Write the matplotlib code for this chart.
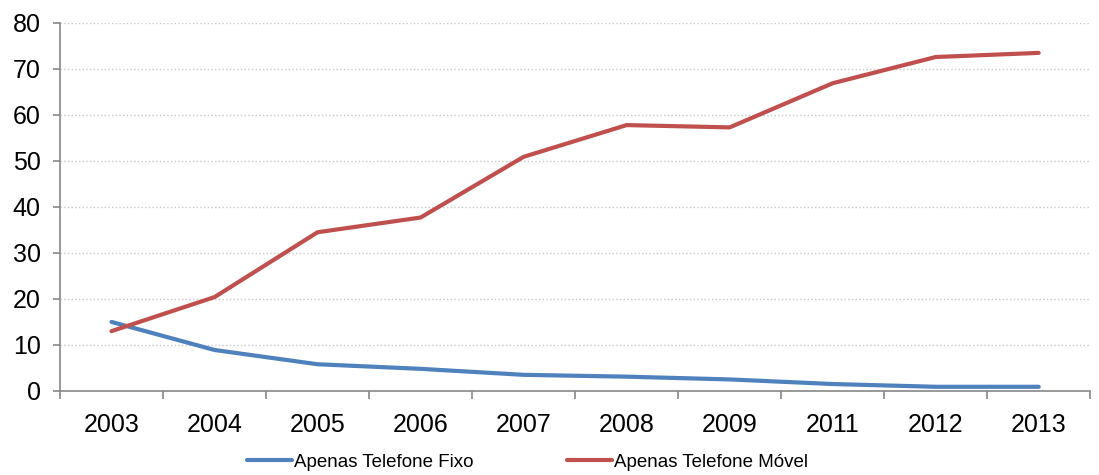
import numpy as np
import matplotlib.pyplot as plt

# === Dados ===
anos = ['2003', '2004', '2005', '2006', '2007', '2008', '2009', '2011', '2012', '2013']
fixo = [15.0, 8.9, 5.8, 4.8, 3.5, 3.1, 2.5, 1.5, 0.9, 0.9]
movel = [13.0, 20.4, 34.5, 37.7, 50.9, 57.8, 57.3, 66.9, 72.6, 73.5]

plt.rcParams['font.family'] = ['Liberation Sans Narrow', 'Liberation Sans', 'DejaVu Sans']

fig = plt.figure(figsize=(10.99, 4.75), dpi=100)
ax = fig.add_axes([0.0546, 0.177, 0.9374, 0.7746])

x = np.arange(len(anos))
ax.plot(x, fixo, color='#4F81BD', lw=3, label='Apenas Telefone Fixo', solid_capstyle='round')
ax.plot(x, movel, color='#C0504D', lw=3, label='Apenas Telefone Móvel', solid_capstyle='round')

ax.set_xlim(-0.5, len(anos) - 0.5)
ax.set_ylim(0, 80)
ax.set_yticks(range(0, 81, 10))
ax.set_xticks(x)
ax.set_xticklabels(anos)
ax.set_xticks(np.arange(-0.5, len(anos), 1), minor=True)
ax.tick_params(axis='x', which='major', length=0, pad=16, labelsize=18)
ax.tick_params(axis='x', which='minor', length=6, color='#888888', width=1.2)
ax.tick_params(axis='y', length=5, color='#888888', width=1.2, labelsize=18, pad=9)

ax.grid(axis='y', linestyle=':', color='#C8C8C8', lw=1)
ax.set_axisbelow(True)
for s in ['top', 'right']:
    ax.spines[s].set_visible(False)
for s in ['left', 'bottom']:
    ax.spines[s].set_color('#888888')
    ax.spines[s].set_linewidth(1.2)

fig.legend(loc='center', bbox_to_anchor=(0.48, 0.027), ncol=2, frameon=False,
           fontsize=13.5, handlelength=2.4, handletextpad=0.1, columnspacing=5.0)

plt.savefig('out.png', dpi=100)
